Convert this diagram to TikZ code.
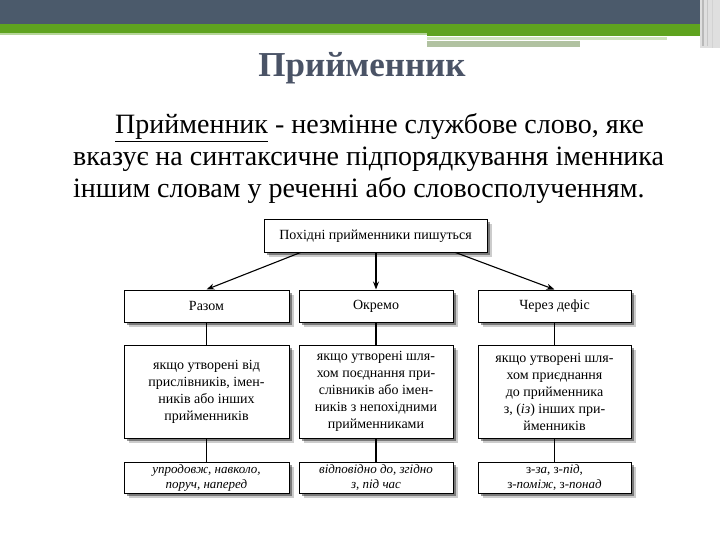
\documentclass[tikz,border=0pt]{standalone}
\usepackage{fontspec}
\setmainfont{Liberation Serif}
\usetikzlibrary{shadows,arrows.meta,calc}
\definecolor{slate}{HTML}{4B5A6B}
\definecolor{titlec}{HTML}{4A5366}
\definecolor{bargreen}{HTML}{5FA31F}
\begin{document}
\begin{tikzpicture}[x=1pt,y=-1pt,
  box/.style={draw=black, line width=1pt, fill=white, rectangle, inner sep=0pt,
    align=center, font=\fontsize{14}{17}\selectfont,
    drop shadow={shadow xshift=4.5pt, shadow yshift=-4.5pt, opacity=0.2, fill=black},
    drop shadow={shadow xshift=2.5pt, shadow yshift=-2.5pt, opacity=0.4, fill=black}},
  small/.style={font=\fontsize{13}{15}\selectfont},
  conn/.style={line width=1.1pt},
  arr/.style={conn,-{Stealth[length=8pt,width=6pt]}},
  para/.style={anchor=base west, inner sep=0pt, font=\fontsize{28}{28}\selectfont}]
\useasboundingbox (0,0) rectangle (720,540);
\fill[white] (0,0) rectangle (720,540);
% top bar
\fill[slate] (0,0) rectangle (700,24);
\fill[bargreen] (0,24) rectangle (700,33);
\fill[bargreen!45!white] (0,33) rectangle (427,35);
\fill[bargreen] (427,33) rectangle (700,36);
\fill[bargreen!30!white] (427,37) rectangle (667,40);
\fill[bargreen!45!gray!55!white] (427,41) rectangle (580,47);
\fill[gray!25] (700,0) rectangle (720,48);
\fill[gray!55] (702,0) rectangle (704,46);
\fill[gray!45] (707,0) rectangle (708,46);
\fill[gray!35] (712,0) rectangle (713,48);
% title
\node[font=\bfseries\fontsize{35}{35}\selectfont, text=titlec, inner sep=0pt] (title) at (362,68) {Прийменник};
% paragraph
\node[para] (p1) at (115,134) {\underline{Прийменник} - незмінне службове слово, яке};
\node[para] (p2) at (73,166) {вказує на синтаксичне підпорядкування іменника};
\node[para] (p3) at (73,198) {іншим словам у реченні або словосполученням.};
% diagram
\node[box, minimum width=223pt, minimum height=32pt] (top) at (375.5,236) {Похідні прийменники пишуться};
\node[box, minimum width=165pt, minimum height=32pt] (a1) at (206.5,306) {Разом};
\node[box, minimum width=154pt, minimum height=32pt] (b1) at (376,306) {Окремо};
\node[box, minimum width=153pt, minimum height=32pt] (c1) at (554.5,306) {Через дефіс};
\node[box, minimum width=165pt, minimum height=93pt] (a2) at (206.5,391.5) {якщо утворені від\\прислівників, імен-\\ників або інших\\прийменників};
\node[box, minimum width=154pt, minimum height=93pt] (b2) at (376,391.5) {якщо утворені шля-\\хом поєднання при-\\слівників або імен-\\ників з непохідними\\прийменниками};
\node[box, minimum width=153pt, minimum height=93pt] (c2) at (554.5,391.5) {якщо утворені шля-\\хом приєднання\\до прийменника\\з, (\textit{із}) інших при-\\йменників};
\node[box, small, minimum width=165pt, minimum height=31pt] (a3) at (206.5,477.5) {\textit{упродовж, навколо,}\\\textit{поруч, наперед}};
\node[box, small, minimum width=154pt, minimum height=31pt] (b3) at (376,477.5) {\textit{відповідно до, згідно}\\\textit{з, під час}};
\node[box, small, minimum width=153pt, minimum height=31pt] (c3) at (554.5,477.5) {з-\textit{за}, з-\textit{під},\\з-\textit{поміж}, з-\textit{понад}};
% connectors
\draw[arr] ($(top.south)+(-75,0)$) -- (a1.north);
\draw[arr] (top.south -| b1.north) -- (b1.north);
\draw[arr] ($(top.south)+(80,0)$) -- (c1.north);
\draw[conn] (a1) -- (a2);
\draw[conn] (b1) -- (b2);
\draw[conn] (c1) -- (c2);
\draw[conn] (a2) -- (a3);
\draw[conn] (b2) -- (b3);
\draw[conn] (c2) -- (c3);
\end{tikzpicture}
\end{document}
